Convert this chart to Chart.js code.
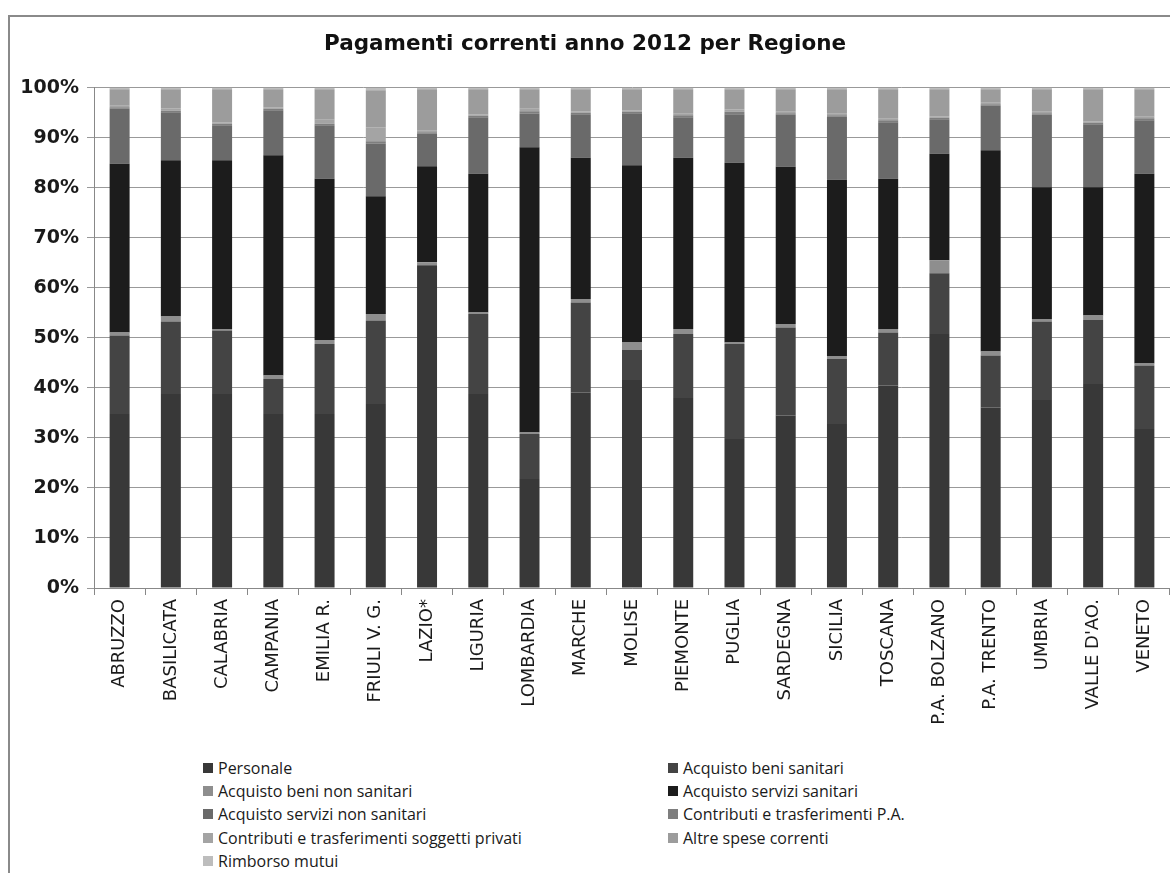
<!DOCTYPE html>
<html>
<head>
<meta charset="utf-8">
<script src="https://cdn.jsdelivr.net/npm/chart.js@4.4.1/dist/chart.umd.min.js"></script>
<style>
  html, body { margin: 0; padding: 0; background: #fff; }
  #wrap { position: relative; width: 1170px; height: 873px; overflow: hidden; }
  #frame { position: absolute; left: 8px; top: 15px; width: 1200px; height: 900px;
           border-left: 2px solid #8a8a8a; border-top: 2px solid #8a8a8a; pointer-events: none; }
  #chartBox { position: absolute; left: 0; top: 0; width: 1170px; height: 745px; }
  #legend { position: absolute; left: 203px; top: 756px; width: 960px;
            display: grid; grid-template-columns: 465px 465px; grid-auto-rows: 23.3px;
            font-family: "Open Sans", sans-serif; font-size: 16px; color: #1a1a1a; }
  .item { display: flex; align-items: center; white-space: nowrap; }
  .sw { width: 10px; height: 10px; margin-right: 5px; flex: none; }
</style>
</head>
<body>
<div id="wrap">
  <div id="chartBox"><canvas id="chart" width="1170" height="745"></canvas></div>
  <div id="legend"></div>
  <div id="frame"></div>
</div>
<script>
// regions on the x axis
const regioni = ["ABRUZZO", "BASILICATA", "CALABRIA", "CAMPANIA", "EMILIA R.", "FRIULI V. G.", "LAZIO*",
  "LIGURIA", "LOMBARDIA", "MARCHE", "MOLISE", "PIEMONTE", "PUGLIA", "SARDEGNA", "SICILIA", "TOSCANA",
  "P.A. BOLZANO", "P.A. TRENTO", "UMBRIA", "VALLE D'AO.", "VENETO"];

// shares (%), one array per spending item
const personale        = [34.8, 38.8, 38.8, 34.8, 34.8, 36.8, 64.5, 38.8, 21.8, 39.1, 41.6, 38.0, 29.8, 34.5, 32.8, 40.5, 50.8, 36.1, 37.6, 40.8, 31.8];
const beniSanitari     = [15.7, 14.5, 12.7,  7.0, 14.0, 16.7,  0.0, 16.0,  9.0, 18.0,  6.0, 12.8, 19.0, 17.6, 13.0, 10.6, 12.1, 10.4, 15.7, 12.8, 12.7];
const beniNonSanitari  = [ 0.6,  1.0,  0.3,  0.7,  0.8,  1.3,  0.6,  0.3,  0.3,  0.7,  1.5,  1.0,  0.3,  0.7,  0.5,  0.7,  2.6,  0.8,  0.5,  0.9,  0.4];
const serviziSanitari  = [33.7, 31.2, 33.7, 44.0, 32.2, 23.5, 19.2, 27.7, 57.0, 28.2, 35.4, 34.2, 35.9, 31.4, 35.3, 30.0, 21.3, 40.2, 26.3, 25.6, 37.9];
const serviziNonSanit  = [11.0,  9.6,  7.0,  9.0, 10.7, 10.5,  6.5, 11.3,  6.7,  8.7, 10.4,  8.1,  9.7, 10.4, 12.6, 11.3,  6.9,  8.9, 14.5, 12.6, 10.7];
const contributiPA     = [ 0.3,  0.3,  0.3,  0.3,  0.3,  0.5,  0.3,  0.3,  0.5,  0.3,  0.3,  0.4,  0.5,  0.3,  0.3,  0.4,  0.3,  0.3,  0.3,  0.3,  0.4];
const contributiPriv   = [ 0.3,  0.5,  0.3,  0.3,  0.8,  2.8,  0.3,  0.3,  0.5,  0.3,  0.3,  0.3,  0.5,  0.3,  0.3,  0.3,  0.3,  0.3,  0.3,  0.3,  0.3];
const altreSpese       = [ 3.3,  3.8,  6.6,  3.6,  6.1,  7.4,  8.3,  5.0,  3.9,  4.4,  4.2,  4.9,  4.0,  4.5,  4.9,  5.9,  5.4,  2.7,  4.5,  6.4,  5.5];
const rimborsoMutui    = [ 0.3,  0.3,  0.3,  0.3,  0.3,  0.5,  0.3,  0.3,  0.3,  0.3,  0.3,  0.3,  0.3,  0.3,  0.3,  0.3,  0.3,  0.3,  0.3,  0.3,  0.3];

const voci = ["Personale", "Acquisto beni sanitari", "Acquisto beni non sanitari", "Acquisto servizi sanitari",
  "Acquisto servizi non sanitari", "Contributi e trasferimenti P.A.", "Contributi e trasferimenti soggetti privati",
  "Altre spese correnti", "Rimborso mutui"];
const yTicks = [0, 10, 20, 30, 40, 50, 60, 70, 80, 90, 100];

const serie = [personale, beniSanitari, beniNonSanitari, serviziSanitari, serviziNonSanit,
  contributiPA, contributiPriv, altreSpese, rimborsoMutui];
const colori = ["#383838", "#444444", "#8e8e8e", "#1c1c1c", "#6a6a6a", "#7e7e7e", "#a4a4a4", "#9c9c9c", "#bdbdbd"];

const ctx = document.getElementById("chart");
new Chart(ctx, {
  type: "bar",
  data: {
    labels: regioni,
    datasets: voci.map((v, i) => ({
      label: v,
      data: serie[i],
      backgroundColor: colori[i],
      borderWidth: 0,
      categoryPercentage: 1,
      barPercentage: 0.39,
    })),
  },
  options: {
    responsive: false,
    animation: false,
    devicePixelRatio: 1,
    layout: { padding: { left: 0, right: 0, top: 0, bottom: 0 } },
    plugins: {
      legend: { display: false },
      tooltip: { enabled: false },
      title: {
        display: true,
        text: "Pagamenti correnti anno 2012 per Regione",
        color: "#111",
        font: { family: "DejaVu Sans", size: 21.5, weight: "bold" },
        padding: { top: 32, bottom: 30 },
      },
    },
    scales: {
      x: {
        stacked: true,
        afterFit: (s) => { s.height = 157; },
        grid: { display: true, drawOnChartArea: false, drawTicks: true, tickLength: 7, color: "#888", offset: true },
        border: { color: "#888", width: 1 },
        ticks: {
          minRotation: 90, maxRotation: 90, autoSkip: false, padding: 4,
          color: "#1a1a1a", font: { family: "DejaVu Sans", size: 18 },
        },
      },
      y: {
        stacked: true,
        min: 0, max: 100,
        afterFit: (s) => { s.width = 94; },
        afterBuildTicks: (s) => { s.ticks = yTicks.map((v) => ({ value: v })); },
        grid: { color: "#999", lineWidth: 1, tickLength: 7 },
        border: { color: "#888", width: 1 },
        ticks: {
          padding: 8, color: "#1a1a1a",
          font: { family: "DejaVu Sans", size: 19, weight: "bold" },
          callback: (v) => v + "%",
        },
      },
    },
  },
});

// legend in two columns, filled row by row
const leg = document.getElementById("legend");
voci.forEach((v, i) => {
  const d = document.createElement("div");
  d.className = "item";
  d.innerHTML = `<span class="sw" style="background:${colori[i]}"></span><span>${v}</span>`;
  leg.appendChild(d);
});
</script>
</body>
</html>
